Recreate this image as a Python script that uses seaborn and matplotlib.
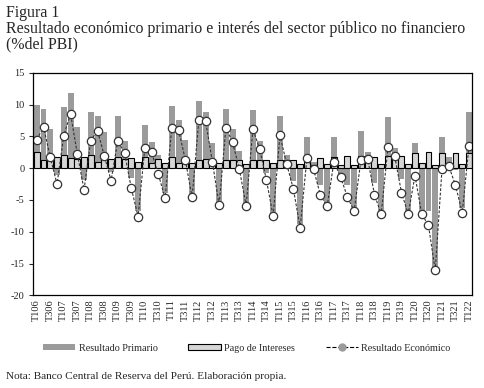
import numpy as np
import pandas as pd
import matplotlib
matplotlib.use("Agg")
import matplotlib.pyplot as plt
import seaborn as sns
from matplotlib.patches import Patch
from matplotlib.lines import Line2D

# trimestres T106 ... T122
years = list(range(6, 23))
quarters = [f"T{q}{y:02d}" for y in years for q in range(1, 5)][:65]

primario = [10.0, 9.35, 6.1, -1.05, 9.7, 11.9, 6.5, -1.8, 8.8, 8.25, 5.7, -0.6,
            8.25, 4.3, -1.6, -6.7, 6.8, 4.15, 2.1, -3.9, 9.8, 7.6, 4.5, -4.2,
            10.6, 8.9, 4.0, -5.3, 9.35, 6.1, 2.7, -5.5, 9.2, 4.3, -0.8, -7.1,
            8.25, 2.1, -2.0, -8.8, 4.9, 1.05, -2.7, -5.7, 4.9, -0.9, -2.7, -6.3,
            5.9, 2.5, -2.26, -6.8, 8.1, 3.2, -1.7, -6.8, 3.95, -6.8, -6.7, -16.0,
            4.9, 1.8, -0.3, -6.3, 8.9]

intereses = [2.6, 1.37, 1.4, 1.7, 2.1, 1.6, 1.5, 1.73, 2.1, 1.05, 1.6, 1.4,
             1.84, 1.47, 1.58, 0.95, 1.7, 0.9, 1.45, 0.8, 1.7, 0.8, 1.0, 0.8,
             1.37, 1.4, 0.8, 0.8, 1.37, 1.37, 1.37, 0.63, 1.26, 1.26, 1.26, 0.9,
             1.26, 1.37, 1.37, 0.7, 1.05, 0.5, 1.6, 0.65, 1.7, 0.45, 1.9, 0.45,
             2.0, 1.84, 1.84, 0.63, 2.0, 2.05, 2.0, 0.63, 2.4, 0.8, 2.5, 0.45,
             2.36, 0.5, 2.36, 0.65, 2.4]

economico = [4.5, 6.5, 1.7, -2.5, 5.15, 8.6, 2.26, -3.36, 4.36, 5.9, 1.95, -1.95,
             4.36, 2.36, -3.15, -7.6, 3.2, 2.5, -0.95, -4.7, 6.4, 6.05, 1.3, -4.6,
             7.57, 7.4, 1.05, -5.85, 6.4, 4.05, -0.18, -5.9, 6.15, 3.05, -1.84, -7.55,
             5.2, 0.68, -3.3, -9.35, 1.6, -0.2, -4.25, -6.0, 1.05, -1.4, -4.55, -6.7,
             1.3, 1.47, -4.15, -7.25, 3.3, 1.88, -3.84, -7.2, -1.16, -7.2, -9.0, -16.1,
             -0.15, 0.38, -2.7, -7.0, 3.57]

df = pd.DataFrame({"trimestre": quarters, "primario": primario,
                   "intereses": intereses, "economico": economico})
df["pos"] = np.arange(len(df))

sns.set_style("white")
plt.rcParams["font.family"] = ["Liberation Serif", "DejaVu Serif"]
plt.rcParams["axes.unicode_minus"] = False

gris = "#9b9b9b"
claro = "#d6d6d6"

fig = plt.figure(figsize=(4.84, 3.88), dpi=100)
ax = fig.add_axes([0.069, 0.239, 0.907, 0.573])

sns.barplot(data=df, x="trimestre", y="primario", color=gris, width=0.88,
            saturation=1, linewidth=0, ax=ax)
sns.barplot(data=df, x="trimestre", y="intereses", color=claro, width=0.88,
            saturation=1, edgecolor="black", linewidth=0.8, ax=ax)
sns.lineplot(data=df, x="pos", y="economico", color="#333333", linewidth=0.8,
             linestyle=(0, (2.5, 1.5)), marker="o", markersize=6,
             markerfacecolor="white", markeredgecolor="#333333",
             markeredgewidth=0.9, ax=ax)

ax.set_xlim(-0.5, len(df) - 0.5)
ax.set_ylim(-20, 15)
ax.set_yticks(range(-20, 16, 5))
ax.set_xticks(df["pos"][::2])
ax.set_xticklabels(df["trimestre"][::2], rotation=90, fontsize=7.5)
ax.tick_params(axis="y", labelsize=7.5, length=3, width=0.8, left=True)
ax.tick_params(axis="x", length=0, pad=3)
ax.set_xlabel("")
ax.set_ylabel("")
for s in ax.spines.values():
    s.set_visible(True)
    s.set_linewidth(0.9)
    s.set_color("black")

fig.text(0.012, 0.967, "Figura 1", fontsize=11.4, va="center")
fig.text(0.012, 0.926, "Resultado económico primario e interés del sector público no financiero",
         fontsize=11.4, va="center")
fig.text(0.012, 0.885, "(%del PBI)", fontsize=11.4, va="center")
fig.text(0.012, 0.03, "Nota: Banco Central de Reserva del Perú. Elaboración propia.",
         fontsize=8.1, va="center")

handles = [
    Patch(facecolor=gris, edgecolor="none"),
    Patch(facecolor=claro, edgecolor="black", linewidth=0.8),
    Line2D([0], [0], color="black", linewidth=0.8, linestyle="--", marker="o",
           markersize=5, markerfacecolor=gris, markeredgecolor=gris),
]
labels = ["Resultado Primario", "Pago de Intereses", "Resultado Económico"]
fig.legend(handles, labels, loc="center", bbox_to_anchor=(0.51, 0.103), ncol=3,
           frameon=False, fontsize=7.3, handlelength=3.2, handleheight=0.5,
           columnspacing=3.0, handletextpad=0.35)

fig.savefig("out.png", dpi=100)
